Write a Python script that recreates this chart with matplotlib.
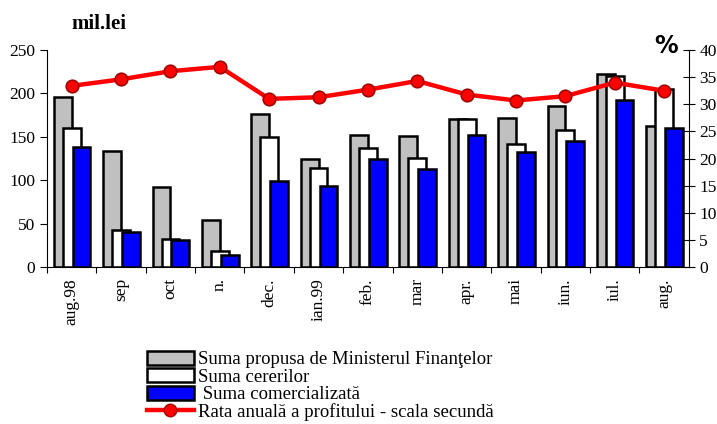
import numpy as np
import matplotlib
matplotlib.use("Agg")
import matplotlib.pyplot as plt
from matplotlib.lines import Line2D
from matplotlib.patches import Patch

plt.rcParams["font.family"] = ["Liberation Serif", "DejaVu Serif"]

months = ["aug.98", "sep", "oct", "n.", "dec.", "ian.99", "feb.", "mar",
          "apr.", "mai", "iun.", "iul.", "aug."]
suma_propusa = [196, 134, 92, 54, 176, 124, 152, 151, 171, 172, 185, 222, 162]
suma_cererilor = [160, 43, 32, 18, 150, 114, 137, 126, 171, 142, 158, 220, 205]
suma_comerc = [138, 41, 31, 14, 99, 93, 125, 113, 152, 132, 145, 192, 160]
rata_profit = [33.4, 34.6, 36.1, 36.9, 31.0, 31.3, 32.7, 34.3, 31.8, 30.7,
               31.5, 34.0, 32.5]

fig = plt.figure(figsize=(7.17, 4.24), dpi=100)
ax = fig.add_axes([0.0656, 0.370, 0.895, 0.512])
x = np.arange(len(months))
w = 0.36

ax.bar(x - 0.18, suma_propusa, w, color="#c0c0c0", edgecolor="black", linewidth=1.8)
ax.bar(x, suma_cererilor, w, color="white", edgecolor="black", linewidth=1.8)
ax.bar(x + 0.2, suma_comerc, w, color="#0000ff", edgecolor="black", linewidth=1.8)

ax.set_xlim(-0.5, len(months) - 0.5)
ax.set_ylim(0, 250)
ax.set_yticks(range(0, 251, 50))
ax.set_xticks(x - 0.5, minor=False)
ax.set_xticklabels([])
ax.set_xticks(x, minor=True)
ax.set_xticklabels(months, minor=True, rotation=90, fontsize=12.5, va="top")
ax.tick_params(axis="x", which="minor", length=0, pad=8)
ax.tick_params(axis="x", which="major", length=4, direction="out")
ax.tick_params(axis="y", labelsize=12.5, direction="out", length=5)
for s in ["top", "right"]:
    ax.spines[s].set_visible(False)

ax2 = ax.twinx()
ax2.plot(x, rata_profit, color="#ff0000", linewidth=3.2, marker="o",
         markersize=9, markerfacecolor="#ff0000", markeredgecolor="#a00000",
         markeredgewidth=1.2, zorder=5)
ax2.set_ylim(0, 40)
ax2.set_yticks(range(0, 41, 5))
ax2.tick_params(axis="y", labelsize=12.5, direction="inout", length=8)
for s in ["top", "left", "bottom"]:
    ax2.spines[s].set_visible(False)

fig.text(0.1, 0.932, "mil.lei", fontsize=15, fontweight="bold")
fig.text(0.912, 0.875, "%", fontsize=17, fontweight="bold", family="DejaVu Sans")

handles = [
    Patch(facecolor="#c0c0c0", edgecolor="black", linewidth=1.8),
    Patch(facecolor="white", edgecolor="black", linewidth=1.8),
    Patch(facecolor="#0000ff", edgecolor="black", linewidth=1.8),
    Line2D([], [], color="#ff0000", linewidth=3.2, marker="o", markersize=9,
           markerfacecolor="#ff0000", markeredgecolor="#a00000"),
]
labels = [
    "Suma propusa de Ministerul Finanţelor",
    "Suma cererilor",
    " Suma comercializată",
    "Rata anuală a profitului - scala secundă",
]
fig.legend(handles, labels, loc="upper left", bbox_to_anchor=(0.205, 0.172),
           frameon=False, fontsize=13.5, handlelength=2.5, handleheight=0.75,
           handletextpad=0.2, labelspacing=0.0, borderpad=0, borderaxespad=0)

fig.savefig("out.png", dpi=100)
